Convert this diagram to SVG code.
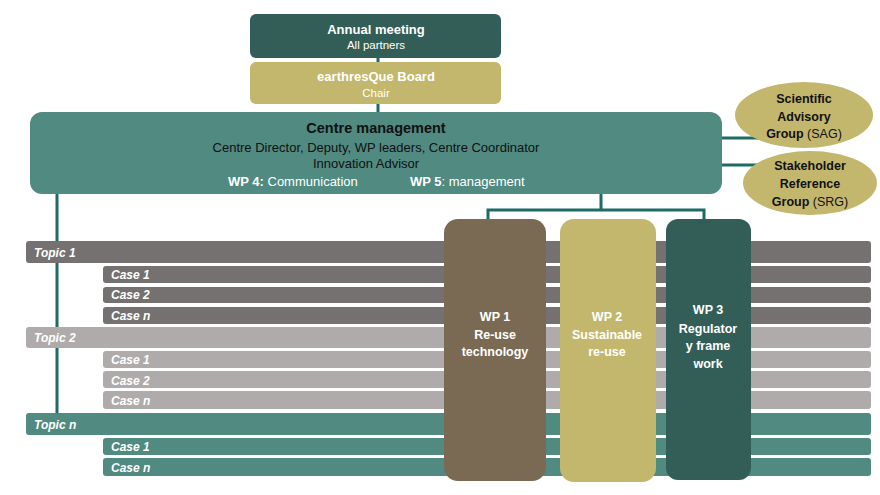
<svg xmlns="http://www.w3.org/2000/svg" width="880" height="495" viewBox="0 0 880 495">
<style>
text{font-family:"Liberation Sans",Arial,sans-serif}
.conn{stroke:#1F6B66;stroke-width:3;fill:none}
.w{fill:#fff}
.b{font-weight:bold}
.bar{font-size:12px;font-weight:bold;font-style:italic;fill:#fff}
.d{fill:#111}
.dark{fill:#335E57}
.khaki{fill:#C2B76C}
.teal{fill:#508A80}
.g1{fill:#767171}
.g2{fill:#AFABAB}
</style>
<rect width="880" height="495" fill="#fff"/>
<g id="connectors">
<line class="conn" x1="378" y1="58" x2="378" y2="112"/>
<line class="conn" x1="57" y1="194" x2="57" y2="414"/>
<line class="conn" x1="722" y1="138" x2="760" y2="138"/>
<line class="conn" x1="722" y1="165" x2="760" y2="165"/>
<polyline class="conn" points="601,194 601,210"/>
<polyline class="conn" points="488,220 488,210 704,210 704,220"/>
</g>
<g id="topic1"><rect class="g1" x="26" y="241" width="845" height="22" rx="3"/><text class="bar" x="34" y="257">Topic 1</text></g>
<g id="topic1-case1"><rect class="g1" x="103" y="266" width="768" height="17" rx="3"/><text class="bar" x="111" y="279">Case 1</text></g>
<g id="topic1-case2"><rect class="g1" x="103" y="287" width="768" height="16" rx="3"/><text class="bar" x="111" y="299">Case 2</text></g>
<g id="topic1-casen"><rect class="g1" x="103" y="307" width="768" height="17" rx="3"/><text class="bar" x="111" y="320">Case n</text></g>
<g id="topic2"><rect class="g2" x="26" y="327" width="845" height="21" rx="3"/><text class="bar" x="34" y="342">Topic 2</text></g>
<g id="topic2-case1"><rect class="g2" x="103" y="351" width="768" height="17" rx="3"/><text class="bar" x="111" y="364">Case 1</text></g>
<g id="topic2-case2"><rect class="g2" x="103" y="371" width="768" height="17" rx="3"/><text class="bar" x="111" y="385">Case 2</text></g>
<g id="topic2-casen"><rect class="g2" x="103" y="391" width="768" height="18" rx="3"/><text class="bar" x="111" y="405">Case n</text></g>
<g id="topicn"><rect class="teal" x="26" y="413" width="845" height="22" rx="3"/><text class="bar" x="34" y="429">Topic n</text></g>
<g id="topicn-case1"><rect class="teal" x="103" y="438" width="768" height="17" rx="3"/><text class="bar" x="111" y="451">Case 1</text></g>
<g id="topicn-casen"><rect class="teal" x="103" y="458" width="768" height="18" rx="3"/><text class="bar" x="111" y="472">Case n</text></g>
<g id="annual"><rect class="dark" x="250" y="14" width="251" height="44" rx="6"/>
<text class="w b" x="376" y="34" font-size="13" text-anchor="middle">Annual meeting</text>
<text class="w" x="376" y="49" font-size="11.5" text-anchor="middle">All partners</text></g>
<g id="board"><rect class="khaki" x="250" y="62" width="251" height="42" rx="6"/>
<text class="w b" x="376" y="81" font-size="13" text-anchor="middle">earthresQue Board</text>
<text class="w" x="376" y="97" font-size="11.5" text-anchor="middle">Chair</text></g>
<g id="centre"><rect class="teal" x="30" y="112" width="692" height="82" rx="12"/>
<text class="d b" x="376" y="133" font-size="14.5" text-anchor="middle">Centre management</text>
<text class="d" x="376" y="152" font-size="13" text-anchor="middle">Centre Director, Deputy, WP leaders, Centre Coordinator</text>
<text class="d" x="366" y="168" font-size="13" text-anchor="middle">Innovation Advisor</text>
<text class="w" x="228" y="186" font-size="13"><tspan class="b">WP 4:</tspan> Communication</text>
<text class="w" x="410" y="186" font-size="13"><tspan class="b">WP 5</tspan>: management</text></g>
<g id="sag"><ellipse class="khaki" cx="804" cy="115" rx="69" ry="33"/>
<text class="d b" x="804" y="103" font-size="12.5" text-anchor="middle">Scientific</text>
<text class="d b" x="804" y="121" font-size="12.5" text-anchor="middle">Advisory</text>
<text class="d" x="804" y="138" font-size="12.5" text-anchor="middle"><tspan class="b">Group</tspan> (SAG)</text></g>
<g id="srg"><ellipse class="khaki" cx="810" cy="183" rx="67" ry="32"/>
<text class="d b" x="810" y="170" font-size="12.5" text-anchor="middle">Stakeholder</text>
<text class="d b" x="810" y="188" font-size="12.5" text-anchor="middle">Reference</text>
<text class="d" x="810" y="206" font-size="12.5" text-anchor="middle"><tspan class="b">Group</tspan> (SRG)</text></g>
<g id="wp1"><rect fill="#7A6A53" x="444" y="219" width="102" height="262" rx="14"/>
<text class="w b" font-size="12.5" text-anchor="middle"><tspan x="495" y="321">WP 1</tspan><tspan x="495" y="339">Re-use</tspan><tspan x="495" y="356">technology</tspan></text></g>
<g id="wp2"><rect class="khaki" x="560" y="219" width="96" height="263" rx="14"/>
<text class="w b" font-size="12.5" text-anchor="middle"><tspan x="607" y="321">WP 2</tspan><tspan x="607" y="339">Sustainable</tspan><tspan x="607" y="356">re-use</tspan></text></g>
<g id="wp3"><rect class="dark" x="666" y="219" width="85" height="261" rx="12"/>
<text class="w b" font-size="12.5" text-anchor="middle"><tspan x="708" y="314">WP 3</tspan><tspan x="708" y="333">Regulator</tspan><tspan x="708" y="350">y frame</tspan><tspan x="708" y="368">work</tspan></text></g>
</svg>
